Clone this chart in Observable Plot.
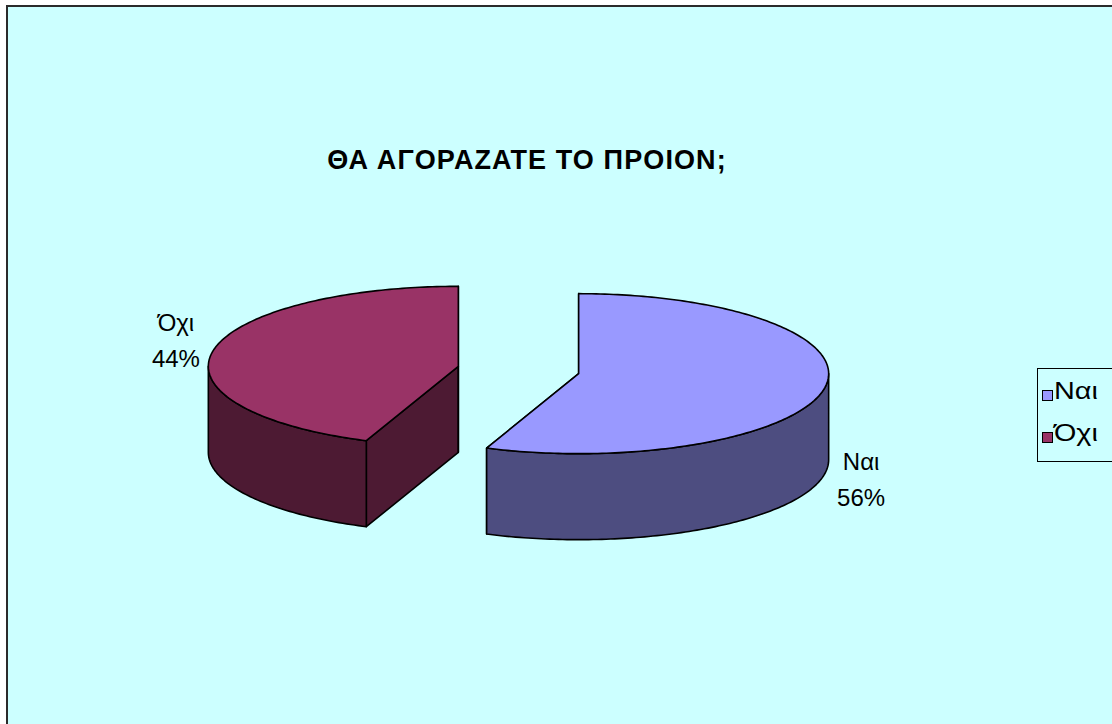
<!DOCTYPE html>
<html><head><meta charset="utf-8">
<script src="https://cdn.jsdelivr.net/npm/d3@7"></script>
<script src="https://cdn.jsdelivr.net/npm/@observablehq/plot@0.6"></script>
<style>
html,body{margin:0;padding:0;background:#fff;overflow:hidden;width:1112px;height:724px;}
#bg{position:absolute;left:6px;top:5px;width:1120px;height:730px;background:#CCFFFF;border-left:2px solid #2b2b2b;border-top:2px solid #2b2b2b;box-sizing:border-box;}
#plot{position:absolute;left:0;top:0;}
#title{position:absolute;left:0;top:147px;width:1054px;text-align:center;font:bold 27px/27px "Liberation Sans",Arial,sans-serif;letter-spacing:1.1px;color:#000;white-space:nowrap;}
#legend{position:absolute;left:1037px;top:368px;width:100px;height:94px;border:1px solid #000;background:#CCFFFF;box-sizing:border-box;}
.sw{position:absolute;left:4px;width:9px;height:9px;border:1px solid #000;}
.lt{position:absolute;left:16px;font:24px/24px "Liberation Sans",Arial,sans-serif;color:#000;transform:scaleX(1.2);transform-origin:left top;white-space:nowrap;}
</style></head><body>
<div id="bg"></div><div id="plot"></div><div id="title"></div><div id="legend"></div>
<script>
const categories = ["Ναι", "Όχι"];
const values = [56, 44];
const chartTitle = "ΘΑ ΑΓΟΡΑΖΑΤΕ ΤΟ ΠΡΟΙΟΝ;";
const topColors = ["#9999FF", "#993366"];
const sideColors = ["#4D4D80", "#4D1A33"];

const depth = 1.075, explode = 0.245, labelR = 1.15;
const total = d3.sum(values);
const rad = Math.PI / 180;
let acc = 0;
const slices = categories.map((c, i) => {
  const a0 = acc / total * 360; acc += values[i]; const a1 = acc / total * 360;
  const mid = (a0 + a1) / 2;
  return {c, v: values[i], a0, a1, mid, i, cx: explode * Math.sin(mid * rad), cy: explode * Math.cos(mid * rad)};
});
function pt(s, a, dz = 0) { return {x: s.cx + Math.sin(a * rad), y: s.cy + Math.cos(a * rad) - dz}; }
function arc(s, a0, a1, dz = 0) {
  const n = Math.max(2, Math.ceil(Math.abs(a1 - a0)));
  return d3.range(n + 1).map(k => pt(s, a0 + (a1 - a0) * k / n, dz));
}
const faces = [];
function addFace(id, pts, color) { pts.forEach(p => faces.push({id, x: p.x, y: p.y, color})); }
slices.forEach(s => {
  const c0 = {x: s.cx, y: s.cy}, c0b = {x: s.cx, y: s.cy - depth};
  [s.a0, s.a1].forEach((a, j) => {
    addFace(`${s.c}-cut${j}`, [c0, pt(s, a), pt(s, a, depth), c0b, c0], sideColors[s.i]);
  });
  const w0 = Math.max(s.a0, 90), w1 = Math.min(s.a1, 270);
  if (w1 > w0) addFace(`${s.c}-wall`, [...arc(s, w0, w1), ...arc(s, w1, w0, depth), pt(s, w0)], sideColors[s.i]);
  addFace(`${s.c}-top`, [c0, ...arc(s, s.a0, s.a1), c0], topColors[s.i]);
});
const labels = slices.map(s => {
  const cv = Math.cos(s.mid * rad);
  return {x: s.cx + labelR * Math.sin(s.mid * rad), y: s.cy + labelR * cv - (cv < 0 ? depth : 0) + (cv < 0 ? 0 : 0.15),
          text: `${s.c}\n${Math.round(s.v / total * 100)}%`};
});

const chart = Plot.plot({
  width: 1112, height: 724, margin: 0,
  x: {domain: [-1, 1], range: [268, 768], axis: null},
  y: {domain: [-1, 1], range: [449.5, 289.5], axis: null},
  color: {type: "identity"},
  style: {background: "transparent", fontFamily: '"Liberation Sans", Arial, sans-serif'},
  marks: [
    Plot.line(faces, {x: "x", y: "y", z: "id", fill: "color", stroke: "black", strokeWidth: 1.6, strokeLinejoin: "round", curve: "linear"}),
    Plot.text(labels, {x: "x", y: "y", text: "text", fontSize: 24, lineHeight: 1.5, fill: "black", textAnchor: "middle"})
  ]
});
document.getElementById("plot").appendChild(chart);
document.getElementById("title").textContent = chartTitle;
const legend = document.getElementById("legend");
const rowTops = [21, 63];
categories.forEach((c, i) => {
  const sw = document.createElement("div"); sw.className = "sw"; sw.style.top = rowTops[i] + "px"; sw.style.background = topColors[i];
  const t = document.createElement("div"); t.className = "lt"; t.style.top = (rowTops[i] - 11) + "px"; t.textContent = c;
  legend.appendChild(sw); legend.appendChild(t);
});
</script>
</body></html>
